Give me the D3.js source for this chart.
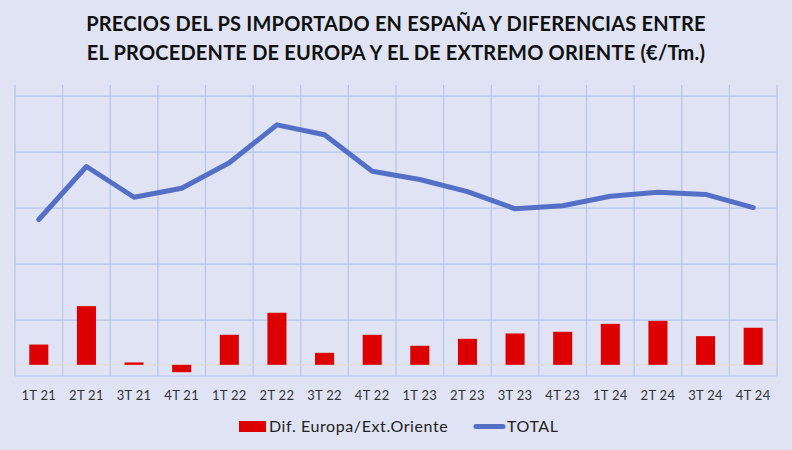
<!DOCTYPE html>
<html lang="es">
<head>
	<meta charset="UTF-8">
	<title>Precios del PS importado</title>
	<script src="https://cdn.jsdelivr.net/npm/d3@7/dist/d3.min.js"></script>
	<style>
		body { margin: 0; background: #dfe3f3; }
		svg { display: block; font-family: Lato, "Open Sans", sans-serif; }
	</style>
</head>
<body>
	<div id="vis"></div>

	<script>
		var width = 792;
		var height = 450;

		// data (€/Tm.)
		var quarters = ["1T 21", "2T 21", "3T 21", "4T 21", "1T 22", "2T 22", "3T 22", "4T 22",
			"1T 23", "2T 23", "3T 23", "4T 23", "1T 24", "2T 24", "3T 24", "4T 24"];
		var difEuropa = [181, 524, 21, -66, 268, 465, 107, 268, 170, 232, 280, 295, 366, 393, 256, 331];
		var total = [1298, 1772, 1497, 1578, 1805, 2144, 2055, 1730, 1656, 1548, 1394, 1421, 1506, 1542, 1522, 1405];
		var gridValues = [-100, 400, 900, 1400, 1900, 2400];

		var titleLines = [
			"PRECIOS DEL PS IMPORTADO EN ESPAÑA Y DIFERENCIAS ENTRE",
			"EL PROCEDENTE DE EUROPA Y EL DE EXTREMO ORIENTE (€/Tm.)"
		];

		var margin = { top: 85, right: 15, bottom: 74, left: 15 };

		var svg = d3.select("#vis").append("svg")
				.attr("width", width)
				.attr("height", height);

		svg.append("rect")
			.attr("width", width)
			.attr("height", height)
			.attr("fill", "#dfe3f3");

		// title
		svg.append("g")
			.selectAll("text")
			.data(titleLines)
			.join("text")
				.attr("x", 396)
				.attr("y", function(d, i) { return 31 + i * 29; })
				.attr("text-anchor", "middle")
				.attr("font-size", 20)
				.attr("letter-spacing", 0.2)
				.attr("font-weight", "bold")
				.attr("fill", "#111")
				.text(function(d) { return d; });

		var x = d3.scaleBand()
				.domain(quarters)
				.range([margin.left, width - margin.right]);

		var y = d3.scaleLinear()
				.domain([-100, 2500])
				.range([height - margin.bottom, margin.top]);

		var plot = svg.append("g");

		// horizontal gridlines
		plot.append("g")
			.selectAll("line")
			.data(gridValues)
			.join("line")
				.attr("x1", margin.left)
				.attr("x2", width - margin.right)
				.attr("y1", function(d) { return y(d); })
				.attr("y2", function(d) { return y(d); })
				.attr("stroke", "#b6c5ea")
				.attr("stroke-width", 1.2);

		// vertical gridlines at the band edges
		var edges = quarters.map(function(q) { return x(q); }).concat([x.range()[1]]);
		plot.append("g")
			.selectAll("line")
			.data(edges)
			.join("line")
				.attr("x1", function(d) { return d; })
				.attr("x2", function(d) { return d; })
				.attr("y1", y(2500))
				.attr("y2", y(-100))
				.attr("stroke", "#b6c5ea")
				.attr("stroke-width", 1.2);

		// zero line
		plot.append("line")
			.attr("x1", margin.left)
			.attr("x2", width - margin.right)
			.attr("y1", y(0))
			.attr("y2", y(0))
			.attr("stroke", "#e3dccb")
			.attr("stroke-width", 1);

		// bars
		var barW = x.bandwidth() * 0.4;
		plot.append("g")
			.selectAll("rect")
			.data(difEuropa)
			.join("rect")
				.attr("x", function(d, i) { return x(quarters[i]) + (x.bandwidth() - barW) / 2; })
				.attr("y", function(d) { return y(Math.max(0, d)); })
				.attr("width", barW)
				.attr("height", function(d) { return Math.abs(y(d) - y(0)); })
				.attr("fill", "#dd0000");

		// total line
		var line = d3.line()
				.x(function(d, i) { return x(quarters[i]) + x.bandwidth() / 2; })
				.y(function(d) { return y(d); });

		plot.append("path")
			.datum(total)
			.attr("d", line)
			.attr("fill", "none")
			.attr("stroke", "#5470c6")
			.attr("stroke-width", 5)
			.attr("stroke-linejoin", "round")
			.attr("stroke-linecap", "round");

		// category labels
		svg.append("g")
			.selectAll("text")
			.data(quarters)
			.join("text")
				.attr("x", function(d) { return x(d) + x.bandwidth() / 2; })
				.attr("y", 400)
				.attr("text-anchor", "middle")
				.attr("font-size", 13)
				.attr("letter-spacing", 0.3)
				.attr("fill", "#333")
				.text(function(d) { return d; });

		// legend
		var legend = svg.append("g");
		legend.append("rect")
			.attr("x", 239)
			.attr("y", 421)
			.attr("width", 27)
			.attr("height", 11)
			.attr("fill", "#dd0000");
		legend.append("text")
			.attr("x", 269)
			.attr("y", 432)
			.attr("font-size", 16)
			.attr("letter-spacing", 0.6)
			.attr("fill", "#222")
			.text("Dif. Europa/Ext.Oriente");
		legend.append("line")
			.attr("x1", 476)
			.attr("x2", 503)
			.attr("y1", 426.5)
			.attr("y2", 426.5)
			.attr("stroke", "#5470c6")
			.attr("stroke-width", 5)
			.attr("stroke-linecap", "round");
		legend.append("text")
			.attr("x", 507)
			.attr("y", 432)
			.attr("font-size", 16)
			.attr("letter-spacing", 0.6)
			.attr("fill", "#222")
			.text("TOTAL");
	</script>
</body>
</html>
